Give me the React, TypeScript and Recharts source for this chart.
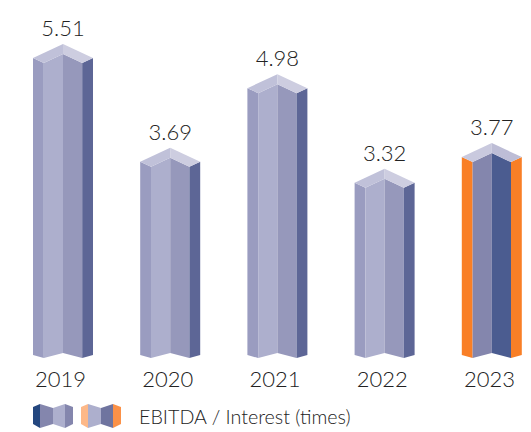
import React from 'react';
import { BarChart, Bar, XAxis, YAxis, LabelList } from 'recharts';

const years = ['2019', '2020', '2021', '2022', '2023'];
const coverage = [5.51, 3.69, 4.98, 3.32, 3.77];
const highlightYear = '2023';
const legendLabel = 'EBITDA / Interest (times)';

const chartData = years.map((year, i) => ({ year, coverage: coverage[i] }));

const FONT = 'Lato, sans-serif';
const TEXT = '#222222';

const NORMAL = { side: '#9a9cc0', left: '#adafcd', right: '#9698bb', edge: '#5d6696', topL: '#c0c1d9', topR: '#cdcde0' };
const ACCENT = { side: '#f97f26', left: '#8486ad', right: '#4b5c90', edge: '#f97f26', topL: '#c9c9de', topR: '#bdbdd6' };

const pts = (list: number[][]) => list.map(p => p.join(',')).join(' ');

// folded column, drawn inside the rectangle the bar scale hands over
const FoldedBar = (props: any) => {
  const { x, y, width, height, payload } = props;
  const c = payload.year === highlightYear ? ACCENT : NORMAL;
  const a = x + width * 0.18;
  const m = x + width / 2;
  const b = x + width * 0.82;
  const r = x + width;
  const bot = y + height;
  return (
    <g>
      <polygon points={pts([[x, y + 14], [a, y + 19], [a, bot], [x, bot - 3]])} fill={c.side} />
      <polygon points={pts([[a, y + 19], [m, y + 10], [m, bot - 5], [a, bot]])} fill={c.left} />
      <polygon points={pts([[m, y + 10], [b, y + 19], [b, bot], [m, bot - 5]])} fill={c.right} />
      <polygon points={pts([[b, y + 19], [r, y + 14], [r, bot - 3], [b, bot]])} fill={c.edge} />
      <polygon points={pts([[x, y + 14], [m, y], [m, y + 10], [a, y + 19]])} fill={c.topL} />
      <polygon points={pts([[m, y], [r, y + 14], [b, y + 19], [m, y + 10]])} fill={c.topR} />
    </g>
  );
};

const LegendIcon = ({ colors }: { colors: string[] }) => (
  <svg width={40} height={24} style={{ display: 'block' }}>
    <polygon points="0,3 7,0 7,24 0,20" fill={colors[0]} />
    <polygon points="7,0 20,4 20,20 7,24" fill={colors[1]} />
    <polygon points="20,4 32,0 32,24 20,20" fill={colors[2]} />
    <polygon points="32,0 40,3 40,20 32,24" fill={colors[3]} />
  </svg>
);

export default function App() {
  return (
    <div style={{ position: 'absolute', left: 0, top: 0, width: 531, height: 432, overflow: 'hidden', background: '#fff' }}>
      <BarChart
        width={545}
        height={432}
        data={chartData}
        margin={{ top: 16, right: 0, left: 9, bottom: 44 }}
      >
        <XAxis
          dataKey="year"
          height={30}
          axisLine={false}
          tickLine={false}
          interval={0}
          dx={-2}
          tick={{ fontSize: 22, fontFamily: FONT, fontWeight: 300, fill: TEXT }}
          tickMargin={7}
        />
        <YAxis hide domain={[0, 6]} />
        <Bar dataKey="coverage" barSize={60} shape={<FoldedBar />} isAnimationActive={false}>
          <LabelList dataKey="coverage" position="top" offset={8} style={{ fontSize: 22, fontFamily: FONT, fontWeight: 300, fill: TEXT }} />
        </Bar>
      </BarChart>
      <div style={{ position: 'absolute', left: 33, top: 404, display: 'flex', alignItems: 'center', fontFamily: FONT, fontWeight: 300, color: TEXT, fontSize: 19.7 }}>
        <LegendIcon colors={['#24477f', '#8486ad', '#adafcd', '#8486ad']} />
        <div style={{ width: 8 }} />
        <LegendIcon colors={['#fdb888', '#adafcd', '#6f749f', '#fb9147']} />
        <span style={{ marginLeft: 18 }}>{legendLabel}</span>
      </div>
    </div>
  );
}
